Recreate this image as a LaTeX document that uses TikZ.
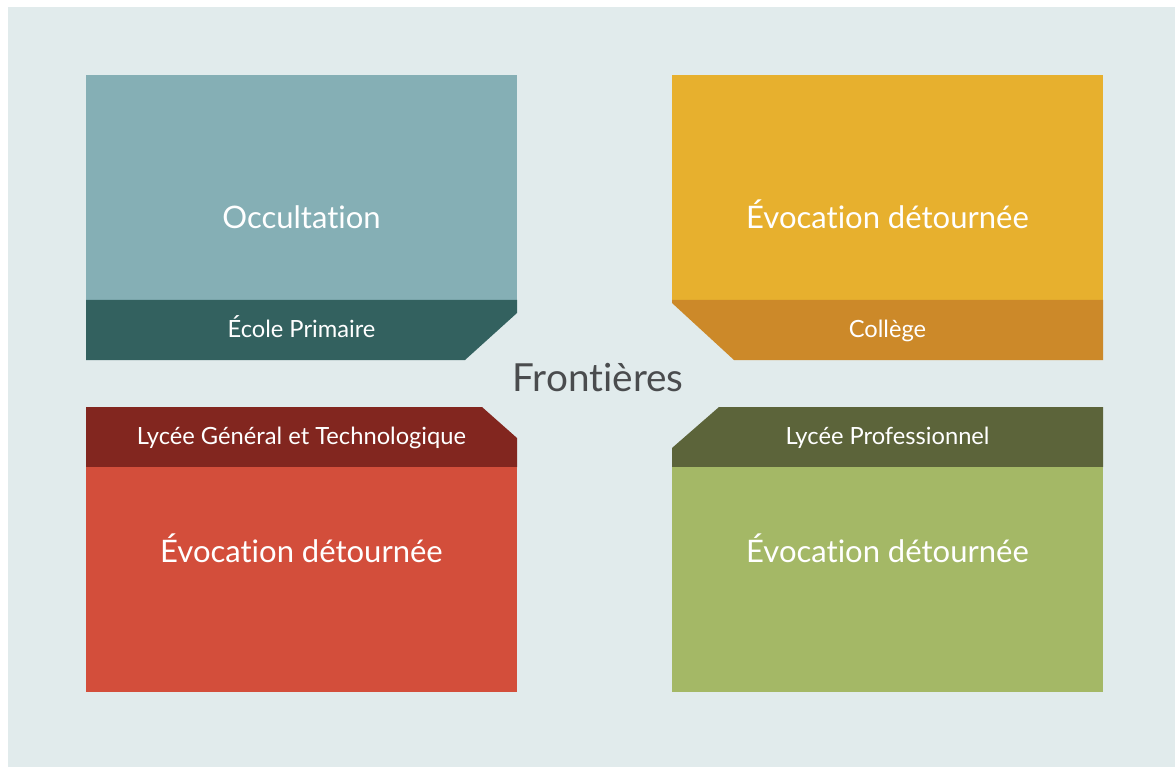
\documentclass[tikz,border=0pt]{standalone}
\usepackage{fontspec}
\setmainfont{Lato}[Ligatures=NoCommon]
\usetikzlibrary{positioning}
\definecolor{paper}{RGB}{225,235,236}
\definecolor{tealpale}{RGB}{133,175,181}
\definecolor{tealdeep}{RGB}{51,97,95}
\definecolor{ochre}{RGB}{231,176,46}
\definecolor{ochredeep}{RGB}{204,137,41}
\definecolor{brick}{RGB}{211,78,59}
\definecolor{brickdeep}{RGB}{130,38,31}
\definecolor{olive}{RGB}{164,184,102}
\definecolor{olivedeep}{RGB}{92,100,58}
\definecolor{ink}{RGB}{74,76,78}

\begin{document}
\begin{tikzpicture}[x=1pt, y=-1pt,
    title/.style={text=white, font=\fontsize{31}{36}\selectfont, inner sep=0pt, anchor=base},
    tag/.style={text=white, font=\fontsize{23.7}{28}\selectfont, inner sep=0pt, anchor=base}
  ]
  \useasboundingbox (0,0) rectangle (1175,767);
  \fill[white] (0,0) rectangle (1175,767);
  \fill[paper] (8,7) rectangle (1175,767);

  % --- upper left: primary school ---
  \fill[tealpale] (86,75) rectangle (517,300);
  \fill[tealdeep] (86,300) -- (517,300) -- (517,313) -- (465,360) -- (86,360) -- cycle;
  \node[title] (occ) at (301.5,229) {Occultation};
  \node[tag] (ecole) at (301.5,337) {École Primaire};

  % --- upper right: middle school ---
  \fill[ochre] (672,75) rectangle (1103,300);
  \fill[ochredeep] (672,300) -- (1103,300) -- (1103,360) -- (734,360) -- (672,303) -- cycle;
  \node[title] (evoc1) at (887.5,229) {Évocation détournée};
  \node[tag] (college) at (887.5,337) {Collège};

  % --- lower left: general high school ---
  \fill[brickdeep] (86,407) -- (482,407) -- (517,438) -- (517,467) -- (86,467) -- cycle;
  \fill[brick] (86,467) rectangle (517,692);
  \node[tag] (lgt) at (301.5,444) {Lycée Général et Technologique};
  \node[title] (evoc2) at (301.5,562) {Évocation détournée};

  % --- lower right: vocational high school ---
  \fill[olivedeep] (719,407) -- (1103,407) -- (1103,467) -- (672,467) -- (672,448) -- cycle;
  \fill[olive] (672,467) rectangle (1103,692);
  \node[tag] (lp) at (887.5,444) {Lycée Professionnel};
  \node[title] (evoc3) at (887.5,562) {Évocation détournée};

  % centre
  \node[text=ink, font=\fontsize{38.7}{44}\selectfont, inner sep=0pt, anchor=base] (front) at (598,391) {Frontières};
\end{tikzpicture}
\end{document}
